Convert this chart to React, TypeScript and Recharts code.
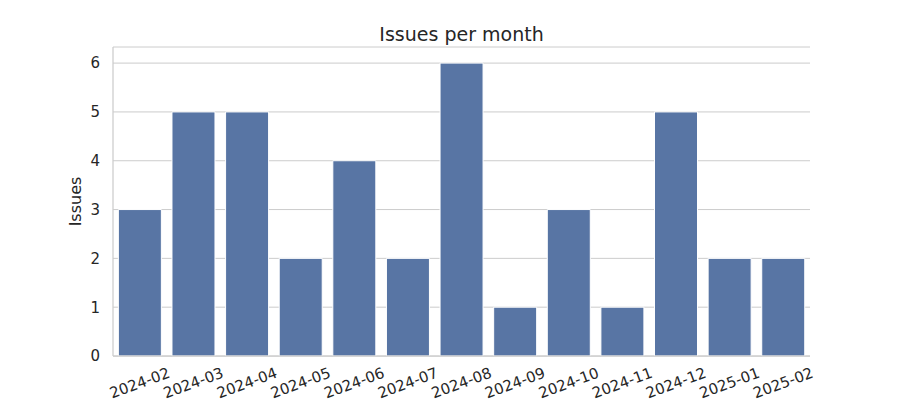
import React from 'react';
import { BarChart, Bar, XAxis, YAxis, CartesianGrid } from 'recharts';

const months = ['2024-02','2024-03','2024-04','2024-05','2024-06','2024-07','2024-08','2024-09','2024-10','2024-11','2024-12','2025-01','2025-02'];
const issues = [3,5,5,2,4,2,6,1,3,1,5,2,2];
const yTicks = [0,1,2,3,4,5,6];

const data = months.map((m, i) => ({ month: m, issues: issues[i] }));

const FONT = '"DejaVu Sans", sans-serif';
const TEXT = '#262626';

const XTick = (props: any) => {
  const { x, payload } = props;
  return (
    <g transform={`translate(${x},383)`}>
      <text transform="rotate(-20)" textAnchor="middle" dominantBaseline="central" fontSize={15} fontFamily={FONT} fill={TEXT}>
        {payload.value}
      </text>
    </g>
  );
};

export default function App() {
  return (
    <div style={{ position: 'absolute', left: 0, top: 0, width: 900, height: 400, background: '#fff' }}>
      <div style={{ position: 'absolute', left: 113, width: 697, top: 22, textAlign: 'center', fontFamily: FONT, fontSize: 19, color: TEXT, lineHeight: '24px' }}>
        Issues per month
      </div>
      <BarChart width={900} height={400} data={data} margin={{ top: 47, right: 90, bottom: 0, left: 0 }} barCategoryGap="10%">
        <CartesianGrid vertical={false} stroke="#cccccc" strokeWidth={1} />
        <XAxis dataKey="month" interval={0} tickLine={false} axisLine={{ stroke: '#cccccc', strokeWidth: 1.25 }} height={44} tick={<XTick />} />
        <YAxis domain={[0, 6.33]} ticks={yTicks} width={113} tickLine={false} tickSize={0} tickMargin={13}
          axisLine={{ stroke: '#cccccc', strokeWidth: 1.25 }}
          tick={{ fontSize: 15, fontFamily: FONT, fill: TEXT }}
          label={{ value: 'Issues', angle: -90, position: 'insideLeft', offset: 75, style: { textAnchor: 'middle', fontSize: 16, fontFamily: FONT, fill: TEXT } }} />
        <Bar dataKey="issues" fill="#5875a4" stroke="#ffffff" strokeWidth={1} isAnimationActive={false} />
      </BarChart>
    </div>
  );
}
